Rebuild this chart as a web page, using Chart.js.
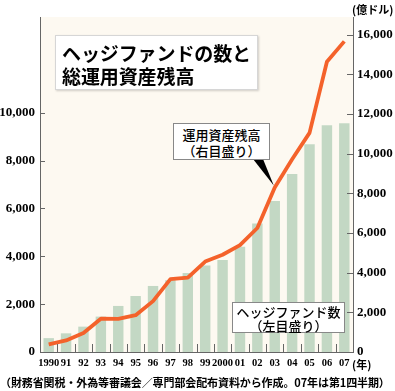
<!DOCTYPE html>
<html><head><meta charset="utf-8">
<script src="https://cdn.jsdelivr.net/npm/chart.js@4/dist/chart.umd.min.js"></script>
<style>
html,body{margin:0;padding:0;background:#fff;}
#wrap{position:relative;width:395px;height:391px;overflow:hidden;font-family:"Noto Sans CJK JP",sans-serif;color:#000;}
canvas{position:absolute;left:0;top:0;}
.box{position:absolute;background:#fff;box-sizing:border-box;white-space:nowrap;}
#title{left:55px;top:35px;width:203px;height:55px;border:1px solid #d6d6d6;box-shadow:1px 1px 2px rgba(0,0,0,0.18);font-weight:700;font-size:19px;line-height:22.5px;padding:6px 0 0 6px;letter-spacing:-0.1px;}
#ann1{left:173px;top:123px;width:97px;height:37px;border:1px solid #888;font-size:13px;font-weight:500;line-height:15.5px;text-align:center;padding-top:3px;}
#ann2{left:232px;top:302px;width:113px;height:31px;border:1px solid #888;font-size:13px;font-weight:500;line-height:13.5px;text-align:center;padding-top:2px;}
.txt{position:absolute;white-space:nowrap;}
#unit{left:352px;top:1px;font-size:11px;font-weight:700;}
#nen{left:352px;top:356px;font-size:11px;font-weight:700;}
#note{left:0px;top:374px;font-size:11px;font-weight:700;letter-spacing:-0.1px;}
</style></head><body>
<div id="wrap">
<canvas id="c" width="395" height="391"></canvas>
<div id="title" class="box">ヘッジファンドの数と<br>総運用資産残高</div>
<div id="ann1" class="box">運用資産残高<br>（右目盛り）</div>
<div id="ann2" class="box">ヘッジファンド数<br>（左目盛り）</div>
<div id="unit" class="txt">(億ドル)</div>
<div id="nen" class="txt">(年)</div>
<div id="note" class="txt">（財務省関税・外為等審議会／専門部会配布資料から作成。07年は第1四半期）</div>
</div>
<script>
const years = ['1990','91','92','93','94','95','96','97','98','99','2000','01','02','03','04','05','06','07'];
const fundCounts = [580, 780, 1060, 1480, 1925, 2340, 2760, 3000, 3300, 3615, 3840, 4400, 5370, 6310, 7440, 8680, 9480, 9560];
const assets = [389, 584, 957, 1678, 1674, 1858, 2567, 3676, 3748, 4564, 4906, 5391, 6256, 8300, 9726, 11054, 14645, 15670];
const leftTicks = [0, 2000, 4000, 6000, 8000, 10000];
const rightTicks = [0, 2000, 4000, 6000, 8000, 10000, 12000, 14000, 16000];

const tickFont = {family: "'Liberation Serif', serif", size: 13, weight: 'bold'};
const fmt = v => Number(v).toLocaleString('en-US');

const decor = {
  id: 'decor',
  beforeDraw(chart) {
    const {ctx, chartArea: a} = chart;
    ctx.save();
    ctx.fillStyle = '#fdf9f1';
    ctx.fillRect(a.left, a.top, a.right - a.left, a.bottom - a.top);
    ctx.restore();
  },
  afterDraw(chart) {
    const {ctx, chartArea: a, scales: {x, y, y2}} = chart;
    ctx.save();
    ctx.strokeStyle = '#666';
    ctx.lineWidth = 1;
    ctx.beginPath();
    y.ticks.forEach(t => {
      const py = Math.round(y.getPixelForValue(t.value)) + 0.5;
      ctx.moveTo(a.left, py); ctx.lineTo(a.left + 5, py);
    });
    y2.ticks.forEach(t => {
      const py = Math.round(y2.getPixelForValue(t.value)) + 0.5;
      ctx.moveTo(a.right - 6, py); ctx.lineTo(a.right, py);
    });
    for (let i = 1; i < years.length; i++) {
      const px = Math.round((x.getPixelForValue(i - 1) + x.getPixelForValue(i)) / 2) + 0.5;
      ctx.moveTo(px, a.bottom); ctx.lineTo(px, a.bottom - 8);
    }
    ctx.stroke();
    // callout pointer to the asset line
    const tipX = x.getPixelForValue(13) - 1;
    const tipY = y2.getPixelForValue(assets[13]) - 2;
    ctx.fillStyle = '#000';
    ctx.beginPath();
    ctx.moveTo(253, 159); ctx.lineTo(263, 159); ctx.lineTo(tipX, tipY);
    ctx.closePath(); ctx.fill();
    ctx.restore();
  }
};

new Chart(document.getElementById('c'), {
  data: {
    labels: years,
    datasets: [
      {type: 'line', data: assets, yAxisID: 'y2', borderColor: '#f4622b', borderWidth: 3.8,
       pointRadius: 0, tension: 0, fill: false, order: 0, borderJoinStyle: 'round'},
      {type: 'bar', data: fundCounts, yAxisID: 'y', backgroundColor: '#c3d8c4',
       barPercentage: 0.6, categoryPercentage: 1.0, order: 1}
    ]
  },
  options: {
    responsive: false,
    animation: false,
    devicePixelRatio: 1,
    layout: {padding: {top: 17, left: 0, right: 0, bottom: 0}},
    plugins: {legend: {display: false}, tooltip: {enabled: false}},
    scales: {
      x: {
        type: 'category', offset: true,
        grid: {display: false, drawTicks: false},
        border: {display: true, color: '#666', width: 1},
        ticks: {font: {family: "'Liberation Serif', serif", size: 10.5, weight: 'bold'}, color: '#000', padding: 5,
                autoSkip: false, maxRotation: 0, minRotation: 0},
        afterFit: s => { s.height = 39; }
      },
      y: {
        position: 'left', min: 0, max: 14000,
        grid: {display: false, drawTicks: false},
        border: {display: true, color: '#666', width: 1},
        ticks: {font: tickFont, color: '#000', padding: 5, callback: fmt},
        afterBuildTicks: s => { s.ticks = leftTicks.map(v => ({value: v})); },
        afterFit: s => { s.width = 40; }
      },
      y2: {
        position: 'right', min: 0, max: 16900,
        grid: {display: false, drawTicks: false},
        border: {display: true, color: '#666', width: 1},
        ticks: {font: tickFont, color: '#000', padding: 4, callback: fmt},
        afterBuildTicks: s => { s.ticks = rightTicks.map(v => ({value: v})); },
        afterFit: s => { s.width = 42; }
      }
    }
  },
  plugins: [decor]
});
</script>
</body></html>
